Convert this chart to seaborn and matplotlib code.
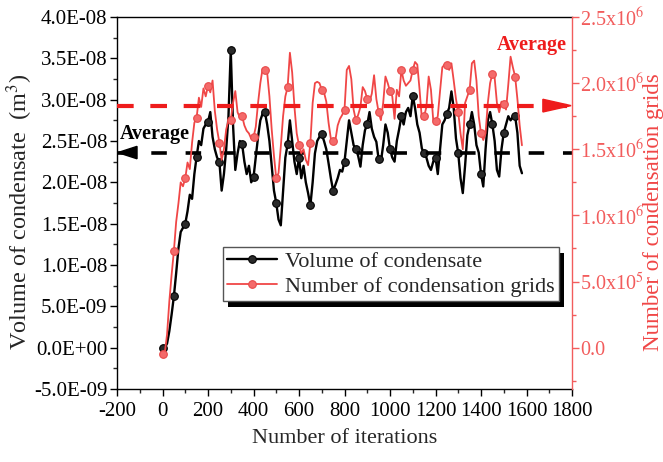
import numpy as np
import pandas as pd
import matplotlib
matplotlib.use("Agg")
import matplotlib.pyplot as plt
import seaborn as sns
from matplotlib.ticker import MultipleLocator, FuncFormatter, FixedLocator, FixedFormatter
from matplotlib.patches import Polygon, Rectangle
from matplotlib.transforms import IdentityTransform

# ---------------- data ----------------
iterations = list(range(0, 1590, 10))
volume_e9 = [
    0, 0, 0.5, 2, 4, 6.2, 9, 12, 14, 14.5,
    15, 16.5, 18.5, 18, 21, 23.1, 25, 24.5, 26.5, 27,
    27.3, 28.5, 25.5, 24, 23, 22.5, 19, 21, 24, 28,
    36, 27, 21.5, 23.5, 25, 24.6, 22.5, 21, 22, 20,
    20.6, 23, 25.5, 27.5, 28.3, 28.5, 27, 25, 22, 19,
    17.5, 15.5, 14.8, 19, 23, 24.6, 27.5, 25, 22.5, 21,
    23, 20.5, 22, 20, 18.7, 17.2, 20, 23.5, 25, 25.5,
    25.8, 25, 24, 22.3, 20.5, 19, 19.7, 20.5, 21.5, 21.3,
    22.5, 25, 27.5, 26, 24.5, 24, 23.2, 21.9, 24.5, 26.3,
    27, 28.5, 26.5, 25.5, 24.9, 22.8, 22.5, 24.5, 27, 26,
    24, 23, 22.5, 25, 26.4, 28, 27, 28.5, 29, 28,
    30.5, 29, 27, 26, 24.1, 23.5, 23, 22, 21.5, 22.5,
    23, 21, 24, 27, 27.5, 28.3, 29, 31, 29, 25.3,
    23.5, 20.5, 18.7, 22, 25.7, 27, 28.5, 27, 24.5, 23.6,
    21, 19.5, 24, 27.5, 28.5, 27, 25, 21.5, 20.7, 24,
    26, 27, 28, 27.5, 27.9, 28, 26, 22, 21.1,
]
grids_e6 = [
    -0.05, -0.04, 0.1, 0.35, 0.55, 0.73, 0.95, 1.09, 1.25, 1.22,
    1.28, 1.4, 1.35, 1.55, 1.7, 1.74, 1.89, 1.82, 1.96, 1.9,
    1.98, 1.93, 2.02, 1.79, 1.65, 1.55, 1.42, 1.5, 1.65, 1.72,
    1.72, 1.85, 1.94, 1.78, 1.74, 1.75, 1.68, 1.64, 1.62, 1.58,
    1.59, 1.67, 1.85, 2.0, 2.11, 2.1, 2.08, 1.9, 1.65, 1.45,
    1.28, 1.32, 1.52, 1.75, 1.9, 1.97, 2.23, 2.08, 1.82, 1.62,
    1.53, 1.47, 1.5, 1.42, 1.38, 1.55, 1.85, 2.0, 2.01, 2.0,
    1.95, 1.93, 1.86, 1.7, 1.58, 1.56, 1.57, 1.68, 1.73, 1.76,
    1.8, 2.1, 2.13, 2.03, 1.8, 1.72, 1.76, 1.82, 1.97, 1.94,
    1.88, 1.86, 1.92, 2.06, 1.88, 1.78, 1.72, 1.85, 2.05, 2.0,
    1.94, 1.9, 1.73, 1.95, 1.9, 2.1, 2.02, 1.98, 2.0, 2.02,
    2.1, 2.16, 2.14, 1.95, 1.73, 1.75, 1.82, 2.05, 1.95, 1.72,
    1.71, 1.75, 1.94, 2.12, 2.14, 2.14, 2.1, 2.15, 2.02, 1.88,
    1.78, 1.62, 1.5, 1.85, 1.9, 1.95, 2.15, 2.17, 2.02, 1.75,
    1.62, 1.57, 1.62, 1.85, 2.0, 2.07, 2.04, 1.85, 1.78, 1.86,
    1.84, 1.8, 1.99, 2.2, 2.12, 2.05, 1.88, 1.68, 1.53,
]
avg_volume = 2.36e-8
avg_grids = 1.83e6
series_labels = ["Volume of condensate", "Number of condensation grids"]
x_ticks = [-200, 0, 200, 400, 600, 800, 1000, 1200, 1400, 1600, 1800]
left_ticks = [-5e-9, 0, 5e-9, 1e-8, 1.5e-8, 2e-8, 2.5e-8, 3e-8, 3.5e-8, 4e-8]
right_ticks = [0, 5e5, 1e6, 1.5e6, 2e6, 2.5e6]
right_tick_labels = ["0.0", "5.0x10$^{5}$", "1.0x10$^{6}$", "1.5x10$^{6}$",
                     "2.0x10$^{6}$", "2.5x10$^{6}$"]

df = pd.DataFrame({
    "iter": iterations,
    "volume": np.array(volume_e9) * 1e-9,
    "grids": np.array(grids_e6) * 1e6,
})

# ---------------- style ----------------
sns.set_style("ticks")
plt.rcParams["font.family"] = ["Liberation Serif", "DejaVu Serif"]
plt.rcParams["mathtext.fontset"] = "stix"
plt.rcParams["axes.unicode_minus"] = False

RED = "#f04646"
RED_AX = "#f25c5c"

fig = plt.figure(figsize=(6.63, 4.62), dpi=100)
ax = fig.add_axes([117 / 663, 1 - 389 / 462, 455 / 663, 372 / 462])
ax2 = ax.twinx()

sns.lineplot(data=df, x="iter", y="volume", ax=ax, color="black", lw=1.7,
             marker="o", markevery=5, ms=5.5, mfc="#2a2a2a", mec="black",
             mew=0.8, legend=False, sort=False, estimator=None)
sns.lineplot(data=df, x="iter", y="grids", ax=ax2, color=RED, lw=1.3,
             marker="o", markevery=5, ms=5.5, mfc="#f46a6a", mec="#e84a4a",
             mew=0.8, legend=False, sort=False, estimator=None)
line_v = ax.lines[-1]
line_g = ax2.lines[-1]

# averages
ax.axhline(avg_volume, color="black", lw=2.6, dashes=(4.3, 5.2), zorder=3)
ax2.axhline(avg_grids, color="#ee1c1c", lw=3.0, dashes=(4.0, 4.0), zorder=3)

# arrow heads
hb = 0.75e-9
ax.add_patch(Polygon([[0.002, avg_volume], [0.044, avg_volume + hb], [0.044, avg_volume - hb]],
                     closed=True, color="black", transform=ax.get_yaxis_transform(),
                     clip_on=False, zorder=4))
hr = 0.048e6
ax2.add_patch(Polygon([[0.998, avg_grids], [0.936, avg_grids + hr], [0.936, avg_grids - hr]],
                      closed=True, color="#ee1c1c", transform=ax2.get_yaxis_transform(),
                      clip_on=False, zorder=4))

ax.text(0.0835, 0.685, "Average", transform=ax.transAxes, ha="center", va="center",
        fontsize=14.5, fontweight="bold", color="black")
ax2.text(0.912, 0.925, "Average", transform=ax2.transAxes, ha="center", va="center",
         fontsize=14.5, fontweight="bold", color="#ee1c1c")

# axes limits / ticks
ax.set_xlim(-200, 1800)
ax.set_ylim(-5e-9, 4e-8)
ax2.set_ylim(-3.125e5, 2.5e6)

ax.xaxis.set_major_locator(FixedLocator(x_ticks))
ax.xaxis.set_minor_locator(MultipleLocator(100))
ax.yaxis.set_major_locator(FixedLocator(left_ticks))
ax.yaxis.set_minor_locator(MultipleLocator(2.5e-9))
ax.yaxis.set_major_formatter(FuncFormatter(lambda v, p: f"{v:.1E}"))
ax2.yaxis.set_major_locator(FixedLocator(right_ticks))
ax2.yaxis.set_major_formatter(FixedFormatter(right_tick_labels))
ax2.yaxis.set_minor_locator(MultipleLocator(2.5e5))

ax.tick_params(axis="both", which="major", direction="out", length=5, width=1,
               labelsize=15, colors="black", pad=2)
ax.tick_params(axis="both", which="minor", direction="out", length=3, width=1)
ax.tick_params(axis="x", pad=4)
ax2.tick_params(axis="y", which="major", direction="out", length=5, width=1,
                labelsize=14.5, colors=RED_AX, pad=1)
ax2.tick_params(axis="y", which="minor", direction="out", length=3, width=1,
                colors=RED_AX)

for s in ["left", "bottom", "top"]:
    ax.spines[s].set_color("black")
    ax.spines[s].set_linewidth(1.0)
ax.spines["right"].set_visible(False)
for s in ["left", "bottom", "top"]:
    ax2.spines[s].set_visible(False)
ax2.spines["right"].set_color(RED_AX)
ax2.spines["right"].set_linewidth(1.0)

ax.set_xlabel("Number of iterations", fontsize=16, labelpad=6)
ax.set_ylabel("Volume of condensate  (m$^{3}$)", fontsize=17.5)
ax.yaxis.set_label_coords(-0.18, 0.475)
ax2.set_ylabel("Number of condensation grids", fontsize=16.5, color=RED)
ax2.yaxis.set_label_coords(1.157, 0.475)

leg = ax2.legend([line_v, line_g], series_labels, loc="upper left",
                 bbox_to_anchor=(0.232, 0.3825), borderaxespad=0, fontsize=16,
                 frameon=True, fancybox=False, edgecolor="#555555",
                 framealpha=1, handlelength=2.25, handletextpad=0.35,
                 borderpad=0.2, labelspacing=0.2)
leg.get_frame().set_linewidth(1.0)
leg.set_zorder(10)

fig.canvas.draw()
bb = leg.get_window_extent()
shadow = Rectangle((bb.x0 + 5, bb.y0 - 6), bb.width, bb.height, transform=IdentityTransform(),
                   facecolor="black", edgecolor="none", zorder=9.5, clip_on=False)
ax2.add_patch(shadow)

fig.savefig("out.png", dpi=100)
